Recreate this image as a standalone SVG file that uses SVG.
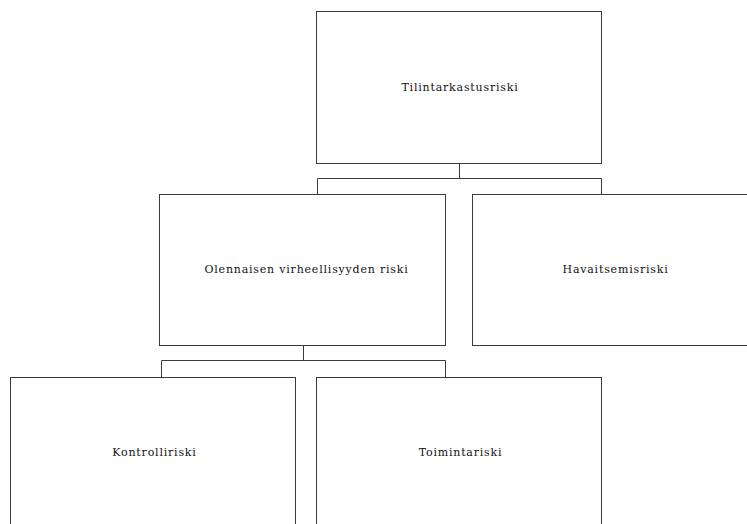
<svg xmlns="http://www.w3.org/2000/svg" width="747" height="524" viewBox="0 0 747 524">
<style>
.box{fill:#fff;stroke:#3a3a3a;stroke-width:1}
.conn{fill:none;stroke:#3a3a3a;stroke-width:1}
.lbl{font-family:"DejaVu Serif","Liberation Serif",serif;font-size:11px;letter-spacing:0.8px;fill:#111;text-anchor:middle}
</style>
<rect width="747" height="524" fill="#fff"/>
<g id="connectors">
<path class="conn" d="M459.5,163.5 V178.5 M317.5,195 V178.5 H601.5 V195"/>
<path class="conn" d="M303.5,345.5 V360.5 M161.5,377 V360.5 H445.5 V377"/>
</g>
<g id="n-tilintarkastusriski">
<rect class="box" x="316.5" y="11.5" width="285" height="152"/>
<text class="lbl" x="460" y="91">Tilintarkastusriski</text>
</g>
<g id="n-olennaisen">
<rect class="box" x="159.5" y="194.5" width="286" height="151"/>
<text class="lbl" x="306.5" y="273">Olennaisen virheellisyyden riski</text>
</g>
<g id="n-havaitsemisriski">
<rect class="box" x="472.5" y="194.5" width="286" height="151"/>
<text class="lbl" x="615.5" y="273">Havaitsemisriski</text>
</g>
<g id="n-kontrolliriski">
<rect class="box" x="10.5" y="377.5" width="285" height="160"/>
<text class="lbl" x="154.5" y="456">Kontrolliriski</text>
</g>
<g id="n-toimintariski">
<rect class="box" x="316.5" y="377.5" width="285" height="160"/>
<text class="lbl" x="460.5" y="456">Toimintariski</text>
</g>
</svg>
